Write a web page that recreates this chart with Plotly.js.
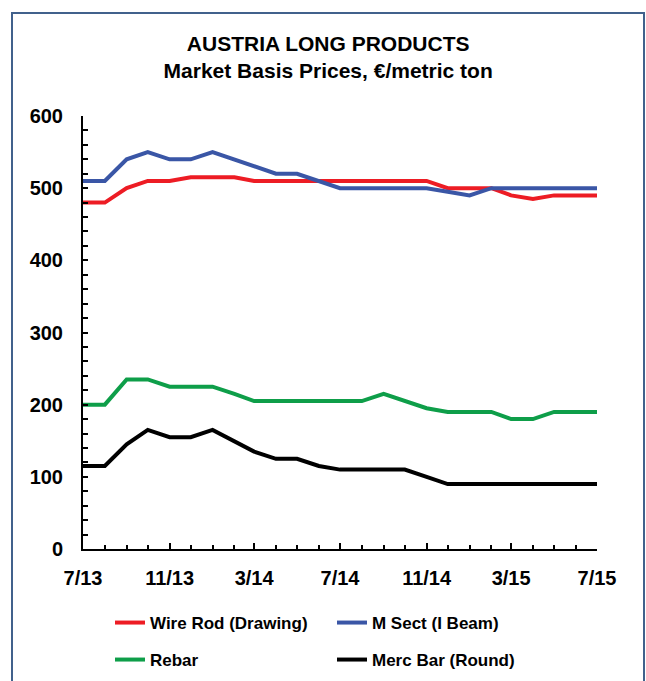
<!DOCTYPE html>
<html>
<head>
<meta charset="utf-8">
<script src="https://cdn.plot.ly/plotly-3.0.1.min.js"></script>
<style>
html,body{margin:0;padding:0;overflow:hidden;background:#fff;width:646px;height:681px;}
#chart{position:absolute;left:0;top:0;width:646px;height:681px;}
#frame{position:absolute;left:11px;top:12px;width:630px;height:700px;border:2.5px solid #41618c;pointer-events:none;}
</style>
</head>
<body>
<div id="chart"></div>
<div id="frame"></div>
<script>
// Monthly observations 7/13 .. 7/15
const months = ['2013-07-01','2013-08-01','2013-09-01','2013-10-01','2013-11-01','2013-12-01',
  '2014-01-01','2014-02-01','2014-03-01','2014-04-01','2014-05-01','2014-06-01','2014-07-01',
  '2014-08-01','2014-09-01','2014-10-01','2014-11-01','2014-12-01','2015-01-01','2015-02-01',
  '2015-03-01','2015-04-01','2015-05-01','2015-06-01','2015-07-01'];
const wireRod = [480,480,500,510,510,515,515,515,510,510,510,510,510,510,510,510,510,500,500,500,490,485,490,490,490];
const mSect   = [510,510,540,550,540,540,550,540,530,520,520,510,500,500,500,500,500,495,490,500,500,500,500,500,500];
const rebar   = [200,200,235,235,225,225,225,215,205,205,205,205,205,205,215,205,195,190,190,190,180,180,190,190,190];
const mercBar = [115,115,145,165,155,155,165,150,135,125,125,115,110,110,110,110,100,90,90,90,90,90,90,90,90];
const seriesNames = ['Wire Rod (Drawing)','M Sect (I Beam)','Rebar','Merc Bar (Round)'];
const seriesColors = ['#ed1c24','#3a56a6','#0e9e49','#000000'];

const FONT = 'Arial, "Liberation Sans", sans-serif';
const values = [wireRod, mSect, rebar, mercBar];
const legendIds = ['legend','legend','legend2','legend2'];
const traces = values.map((v,i)=>({
  x: months, y: v, type:'scatter', mode:'lines', name: seriesNames[i],
  line:{color: seriesColors[i], width:4}, legend: legendIds[i]
}));

const legendBase = {
  orientation:'h', xref:'paper', yref:'container', xanchor:'left', yanchor:'middle',
  entrywidth:177, entrywidthmode:'pixels', bgcolor:'rgba(0,0,0,0)', borderwidth:0,
  font:{family:FONT, size:17, color:'#000', weight:'bold'}, traceorder:'normal'
};

const layout = {
  width:646, height:681,
  margin:{l:83, r:49, t:116, b:132},
  paper_bgcolor:'#ffffff', plot_bgcolor:'#ffffff',
  font:{family:FONT, color:'#000', size:20},
  title:{
    text:'<b>AUSTRIA LONG PRODUCTS</b><br><b>Market Basis Prices, €/metric ton</b>',
    xref:'container', x:0.508, xanchor:'center',
    yref:'container', y:0.925, yanchor:'top',
    font:{family:FONT, size:21, color:'#000'}
  },
  xaxis:{
    type:'date', range:['2013-07-01','2015-07-01'],
    tickmode:'linear', tick0:'2013-07-01', dtick:'M4', tickformat:'%-m/%y',
    ticks:'inside', ticklen:6, tickwidth:2, tickcolor:'#000',
    showline:true, linewidth:2, linecolor:'#000', showgrid:false, zeroline:false,
    minor:{dtick:'M1', tick0:'2013-07-01', ticks:'inside', ticklen:4, tickwidth:2, tickcolor:'#000', showgrid:false},
    tickfont:{family:FONT, size:20, color:'#000', weight:'bold'},
    ticklabelstandoff:10
  },
  yaxis:{
    range:[0,600], tickmode:'linear', tick0:0, dtick:100,
    ticks:'inside', ticklen:5, tickwidth:2, tickcolor:'#000',
    showline:true, linewidth:2, linecolor:'#000', showgrid:false, zeroline:false,
    minor:{dtick:20, ticks:'inside', ticklen:5, tickwidth:2, tickcolor:'#000', showgrid:false},
    tickfont:{family:FONT, size:20, color:'#000', weight:'bold'},
    ticklabelstandoff:14
  },
  legend: Object.assign({}, legendBase, {x:0.0525, y:1-623/681}),
  legend2: Object.assign({}, legendBase, {x:0.0525, y:1-660/681}),
  showlegend:true
};

Plotly.newPlot('chart', traces, layout, {displayModeBar:false, staticPlot:true});
</script>
</body>
</html>
